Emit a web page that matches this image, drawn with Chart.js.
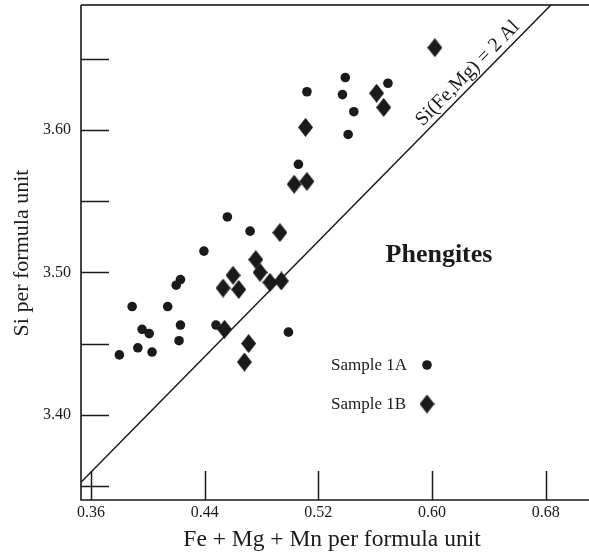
<!DOCTYPE html>
<html>
<head>
<meta charset="utf-8">
<script src="https://cdn.jsdelivr.net/npm/chart.js@4"></script>
<style>
  body { margin: 0; background: #fff; }
  #wrap { width: 589px; height: 553px; }
</style>
</head>
<body>
<div id="wrap"><canvas id="graph" width="589" height="553"></canvas></div>
<script>
// data
const sampleAx = [0.380, 0.389, 0.393, 0.396, 0.401, 0.403, 0.414, 0.420, 0.423, 0.423, 0.422, 0.4395, 0.448, 0.456, 0.472, 0.499, 0.506, 0.512, 0.537, 0.539, 0.545, 0.541, 0.569];
const sampleAy = [3.442, 3.476, 3.447, 3.460, 3.457, 3.444, 3.476, 3.491, 3.495, 3.463, 3.452, 3.515, 3.463, 3.539, 3.529, 3.458, 3.576, 3.627, 3.625, 3.637, 3.613, 3.597, 3.633];

const sampleBx = [0.453, 0.454, 0.460, 0.464, 0.476, 0.479, 0.486, 0.494, 0.493, 0.471, 0.468, 0.503, 0.512, 0.511, 0.561, 0.566, 0.602];
const sampleBy = [3.489, 3.460, 3.498, 3.488, 3.509, 3.500, 3.493, 3.494, 3.528, 3.450, 3.437, 3.562, 3.564, 3.602, 3.626, 3.616, 3.658];

// Si(Fe,Mg) = 2 Al reference line
const lineX = [0.353, 0.6837];
const lineY = [3.3525, 3.688];

const xTicks = [0.36, 0.44, 0.52, 0.60, 0.68];
const yMajor = [3.40, 3.50, 3.60];
const yMinor = [3.35, 3.45, 3.55, 3.65];

const ink = '#1a1a1a';
const serif = '"Liberation Serif", "Times New Roman", serif';

// tall diamond marker
function diamond(w, h) {
  const c = document.createElement('canvas');
  c.width = w; c.height = h;
  const g = c.getContext('2d');
  g.fillStyle = ink;
  g.beginPath();
  g.moveTo(w / 2, 0);
  g.lineTo(w, h / 2);
  g.lineTo(w / 2, h);
  g.lineTo(0, h / 2);
  g.closePath();
  g.fill();
  return c;
}
const diamondBig = diamond(15, 19);

const zip = (xs, ys) => xs.map((x, i) => ({ x: x, y: ys[i] }));

// axes, ticks and texts drawn from the chart's own scales
const decor = {
  id: 'decor',
  beforeDatasetsDraw(chart) {
    const ctx = chart.ctx;
    const a = chart.chartArea;
    const sx = chart.scales.x, sy = chart.scales.y;
    ctx.save();
    ctx.strokeStyle = '#444';
    ctx.lineWidth = 2;
    ctx.beginPath();
    ctx.moveTo(a.left, a.top); ctx.lineTo(a.right, a.top);
    ctx.stroke();
    ctx.strokeStyle = ink;
    ctx.lineWidth = 1.6;
    ctx.beginPath();
    ctx.moveTo(a.left, a.top); ctx.lineTo(a.left, a.bottom); ctx.lineTo(a.right, a.bottom);
    ctx.stroke();

    // inward ticks
    ctx.lineWidth = 1.5;
    ctx.beginPath();
    yMajor.concat(yMinor).forEach(v => {
      const y = Math.round(sy.getPixelForValue(v)) + 0.5;
      ctx.moveTo(a.left, y); ctx.lineTo(a.left + 28, y);
    });
    xTicks.forEach(v => {
      const x = Math.round(sx.getPixelForValue(v)) + 0.5;
      ctx.moveTo(x, a.bottom); ctx.lineTo(x, a.bottom - 29);
    });
    ctx.stroke();

    ctx.fillStyle = ink;
    ctx.font = '16px ' + serif;
    ctx.textAlign = 'right';
    ctx.textBaseline = 'middle';
    yMajor.forEach(v => ctx.fillText(v.toFixed(2), a.left - 10, sy.getPixelForValue(v)));
    ctx.textAlign = 'center';
    ctx.textBaseline = 'top';
    xTicks.forEach(v => ctx.fillText(v.toFixed(2), sx.getPixelForValue(v), a.bottom + 5));

    // axis titles
    ctx.font = '23.5px ' + serif;
    ctx.textBaseline = 'alphabetic';
    ctx.fillText('Fe + Mg + Mn per formula unit', 332, 546);
    ctx.font = '22px ' + serif;
    ctx.save();
    ctx.translate(28, 253);
    ctx.rotate(-Math.PI / 2);
    ctx.fillText('Si per formula unit', 0, 0);
    ctx.restore();
    ctx.restore();
  },
  afterDraw(chart) {
    const ctx = chart.ctx;
    const sx = chart.scales.x, sy = chart.scales.y;
    ctx.save();
    ctx.fillStyle = ink;

    // label along the reference line
    const x0 = sx.getPixelForValue(lineX[0]), y0 = sy.getPixelForValue(lineY[0]);
    const x1 = sx.getPixelForValue(lineX[1]), y1 = sy.getPixelForValue(lineY[1]);
    const ang = Math.atan2(y1 - y0, x1 - x0);
    const t = 0.84;
    ctx.translate(x0 + (x1 - x0) * t, y0 + (y1 - y0) * t);
    ctx.rotate(ang);
    ctx.font = '20px ' + serif;
    ctx.textAlign = 'center';
    ctx.textBaseline = 'alphabetic';
    ctx.fillText('Si(Fe,Mg) = 2 Al', 0, -6);
    ctx.restore();

    ctx.save();
    ctx.fillStyle = ink;
    ctx.font = 'bold 26px ' + serif;
    ctx.textAlign = 'center';
    ctx.fillText('Phengites', 439, 262);

    // legend
    ctx.font = '17px ' + serif;
    ctx.textAlign = 'left';
    ctx.textBaseline = 'middle';
    ctx.fillText('Sample 1A', 331, 366);
    ctx.fillText('Sample 1B', 331, 405);
    ctx.beginPath();
    ctx.arc(427, 365, 4.8, 0, Math.PI * 2);
    ctx.fill();
    ctx.drawImage(diamondBig, 427 - 7.5, 404 - 9.5);
    ctx.restore();
  }
};

new Chart(document.getElementById('graph'), {
  type: 'scatter',
  data: {
    datasets: [
      {
        type: 'line',
        data: zip(lineX, lineY),
        borderColor: ink,
        borderWidth: 1.5,
        pointRadius: 0,
        fill: false
      },
      {
        label: 'Sample 1A',
        data: zip(sampleAx, sampleAy),
        pointStyle: 'circle',
        pointRadius: 4.8,
        pointBorderWidth: 0,
        backgroundColor: ink,
        borderColor: ink
      },
      {
        label: 'Sample 1B',
        data: zip(sampleBx, sampleBy),
        pointStyle: diamondBig,
        pointRadius: 8,
        backgroundColor: ink,
        borderColor: ink
      }
    ]
  },
  options: {
    responsive: false,
    animation: false,
    devicePixelRatio: 1,
    events: [],
    layout: { autoPadding: false, padding: { left: 81, top: 5, right: 0, bottom: 53 } },
    plugins: { legend: { display: false }, tooltip: { enabled: false } },
    scales: {
      x: { type: 'linear', display: false, min: 0.353, max: 0.7105 },
      y: { type: 'linear', display: false, min: 3.340, max: 3.688 }
    }
  },
  plugins: [decor]
});
</script>
</body>
</html>
